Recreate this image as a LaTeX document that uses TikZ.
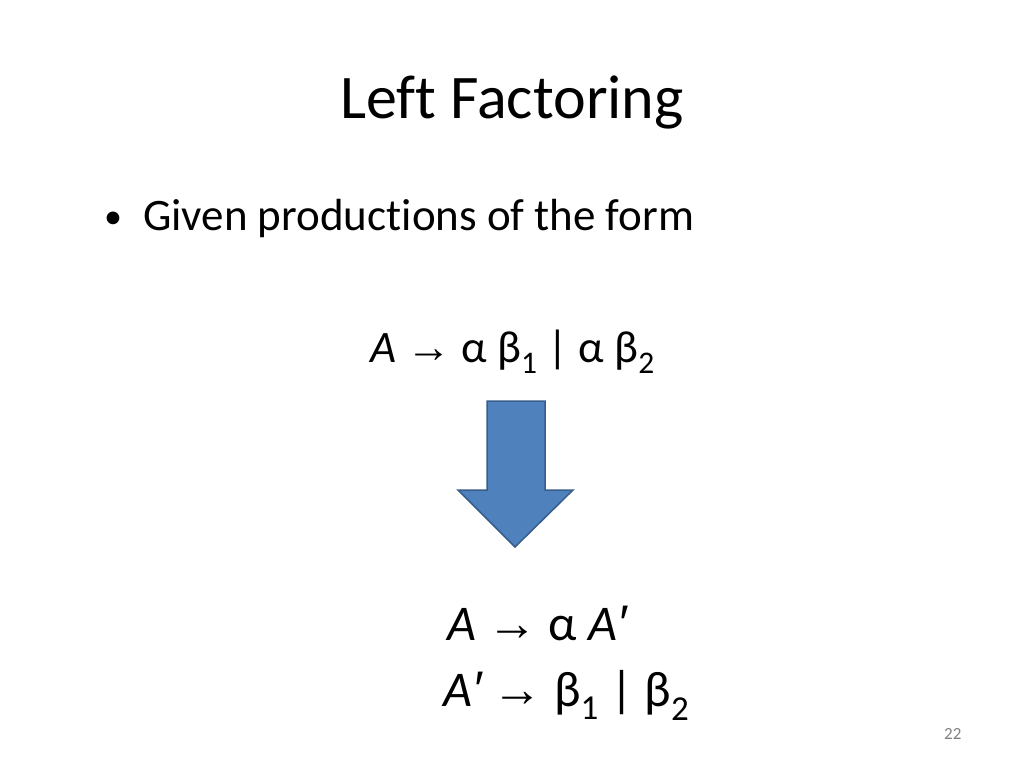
\documentclass[tikz,border=0pt]{standalone}
\usepackage{fontspec}
\setmainfont[Ligatures={NoCommon}]{Carlito}
\newfontfamily\arr{Liberation Sans}
\begin{document}
\begin{tikzpicture}[x=1pt,y=-1pt,
  txt/.style={anchor=base west,inner sep=0pt},
  bigarrow/.style={fill={rgb,255:red,79;green,129;blue,189}, draw={rgb,255:red,56;green,93;blue,138}, line width=1.5pt}]
\useasboundingbox (0,0) rectangle (1024,768);
\newcommand{\ar}{{\arr\fontsize{45}{48}\selectfont→}}
\newcommand{\arB}{{\arr\fontsize{50}{52}\selectfont→}}
\newcommand{\pr}{{\arr\itshape ′}}
\node[anchor=base,inner sep=0pt] (title) at (512,118) {\fontsize{62}{70}\selectfont Left Factoring};
\node[txt] (bullet) at (104,228) {\fontsize{36}{40}\selectfont •};
\node[txt] (given) at (143,230) {\fontsize{45}{50}\selectfont Given productions of the form};
\node[txt] (l1) at (370,362) {\fontsize{45}{50}\selectfont \textit{A} \ar\ α β\textsubscript{1} | α β\textsubscript{2}};
\draw[bigarrow] (487,401) -- (545,401) -- (545,490) -- (573,490) -- (515,547) -- (458,490) -- (487,490) -- cycle;
\node[txt] (l2) at (447,640) {\fontsize{50}{55}\selectfont \textit{A} \arB\ α \textit{A}\pr};
\node[txt] (l3) at (443,706) {\fontsize{50}{55}\selectfont \textit{A}\pr\ \arB\ β\textsubscript{1} | β\textsubscript{2}};
\node[txt,text=gray] (pg) at (944,739) {\fontsize{17}{20}\selectfont 22};
\end{tikzpicture}
\end{document}
